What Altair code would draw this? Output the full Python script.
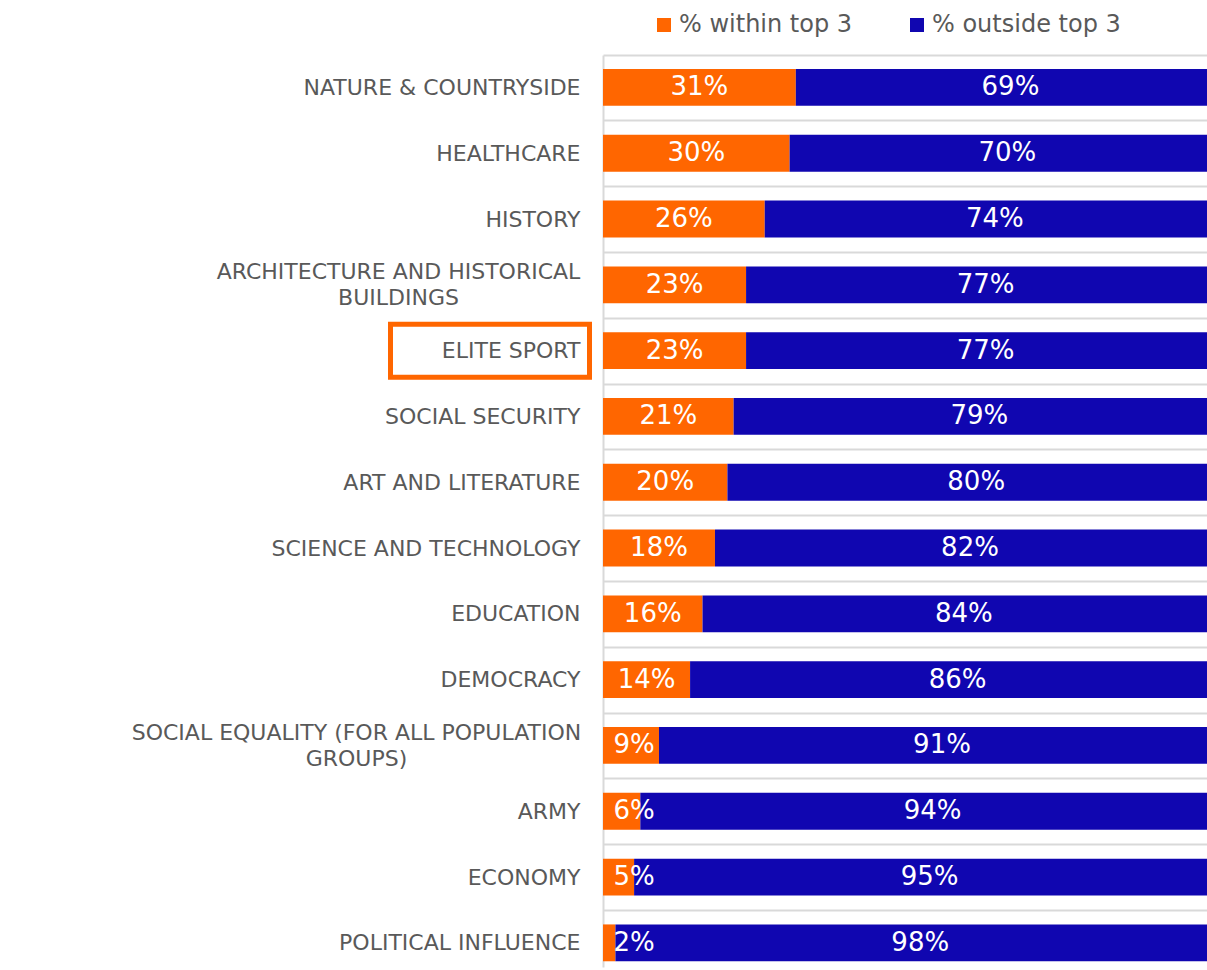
import json
import altair as alt
import pandas as pd

categories = [
    "NATURE & COUNTRYSIDE",
    "HEALTHCARE",
    "HISTORY",
    "ARCHITECTURE AND HISTORICAL BUILDINGS",
    "ELITE SPORT",
    "SOCIAL SECURITY",
    "ART AND LITERATURE",
    "SCIENCE AND TECHNOLOGY",
    "EDUCATION",
    "DEMOCRACY",
    "SOCIAL EQUALITY (FOR ALL POPULATION GROUPS)",
    "ARMY",
    "ECONOMY",
    "POLITICAL INFLUENCE",
]
within_top3 = [31, 30, 26, 23, 23, 21, 20, 18, 16, 14, 9, 6, 5, 2]
outside_top3 = [69, 70, 74, 77, 77, 79, 80, 82, 84, 86, 91, 94, 95, 98]
series_names = ["% within top 3", "% outside top 3"]
series_colors = ["#FF6600", "#1006B0"]
line_breaks = {
    "ARCHITECTURE AND HISTORICAL BUILDINGS": ["ARCHITECTURE AND HISTORICAL", "BUILDINGS"],
    "SOCIAL EQUALITY (FOR ALL POPULATION GROUPS)": ["SOCIAL EQUALITY (FOR ALL POPULATION", "GROUPS)"],
}
# half width (px) of the first line of each two-line label, used to centre its lines
first_line_half_width = {
    "ARCHITECTURE AND HISTORICAL BUILDINGS": 182,
    "SOCIAL EQUALITY (FOR ALL POPULATION GROUPS)": 224,
}
highlight = ["ELITE SPORT"]

rows = []
for c, w, o in zip(categories, within_top3, outside_top3):
    rows.append({"cat": c, "series": series_names[0], "value": w})
    rows.append({"cat": c, "series": series_names[1], "value": o})
df = pd.DataFrame(rows)

label_expr = "datum.label"
for k, v in line_breaks.items():
    label_expr = f"(datum.label === {json.dumps(k)}) ? {json.dumps(v)} : ({label_expr})"

FONT = "DejaVu Sans"
HALF_STEP = 32.9
LABEL_PAD = 23
LINE_H = 26

multi_test = " || ".join(f"datum.value === {json.dumps(k)}" for k in line_breaks)

label_align = {"condition": {"test": multi_test, "value": "center"}, "value": "right"}
label_offset = {"condition": {"test": multi_test, "value": HALF_STEP - LINE_H / 2}, "value": HALF_STEP}
label_padding = {
    "condition": [
        {"test": f"datum.value === {json.dumps(k)}", "value": LABEL_PAD + hw}
        for k, hw in first_line_half_width.items()
    ],
    "value": LABEL_PAD,
}

yscale = alt.Scale(paddingInner=0.44, paddingOuter=0.15, align=0.71)
xscale = alt.Scale(domain=[0, 97.1], nice=False, zero=True)

y_enc = alt.Y(
    "cat:N",
    sort=categories,
    scale=yscale,
    axis=alt.Axis(
        title=None,
        labelExpr=label_expr,
        labelFont=FONT,
        labelFontSize=22,
        labelColor="#595959",
        labelPadding=label_padding,
        labelAlign=label_align,
        labelLimit=1000,
        labelLineHeight=LINE_H,
        ticks=False,
        domain=True,
        domainColor="#D9D9D9",
        domainWidth=2,
        grid=True,
        gridColor="#D9D9D9",
        gridWidth=2,
        tickOffset=-HALF_STEP,
        labelOffset=label_offset,
    ),
)

base = alt.Chart(df).transform_stack(
    stack="value",
    as_=["x0", "x1"],
    groupby=["cat"],
    sort=[alt.SortField("series", order="descending")],
).transform_calculate(
    mid="max((datum.x0 + datum.x1) / 2, datum.x0 + 5)",
    label="datum.value + '%'",
)

bars = base.mark_bar(clip=True).encode(
    y=y_enc,
    x=alt.X("x0:Q", scale=xscale, axis=None),
    x2="x1:Q",
    color=alt.Color(
        "series:N",
        scale=alt.Scale(domain=series_names, range=series_colors),
        legend=alt.Legend(
            title=None,
            orient="none",
            legendX=49,
            legendY=-42,
            direction="horizontal",
            symbolType="square",
            symbolSize=196,
            symbolStrokeWidth=0,
            symbolOpacity=1,
            labelFont=FONT,
            labelFontSize=24,
            labelColor="#595959",
            labelOffset=3,
            labelLimit=400,
            columnPadding=52,
        ),
    ),
)

texts = base.mark_text(
    color="white", font=FONT, fontSize=26, align="center", baseline="middle", clip=True
).encode(
    y=alt.Y("cat:N", sort=categories),
    x=alt.X("mid:Q"),
    text="label:N",
)

box = alt.Chart(pd.DataFrame({"cat": highlight})).mark_bar(
    filled=False, stroke="#FF6600", strokeWidth=5, size=53, clip=False
).encode(
    y=alt.Y("cat:N", sort=categories),
    x=alt.value(-212.5),
    x2=alt.value(-13.5),
)

chart = alt.layer(bars, texts, box).properties(
    width=604,
    height=912,
    autosize=alt.AutoSizeParams(type="none"),
    padding={"left": 603, "top": 55, "right": 0, "bottom": 3},
    background="white",
).configure_view(stroke=None)

chart.save("out.html", embed_options={"renderer": "svg", "actions": False})
